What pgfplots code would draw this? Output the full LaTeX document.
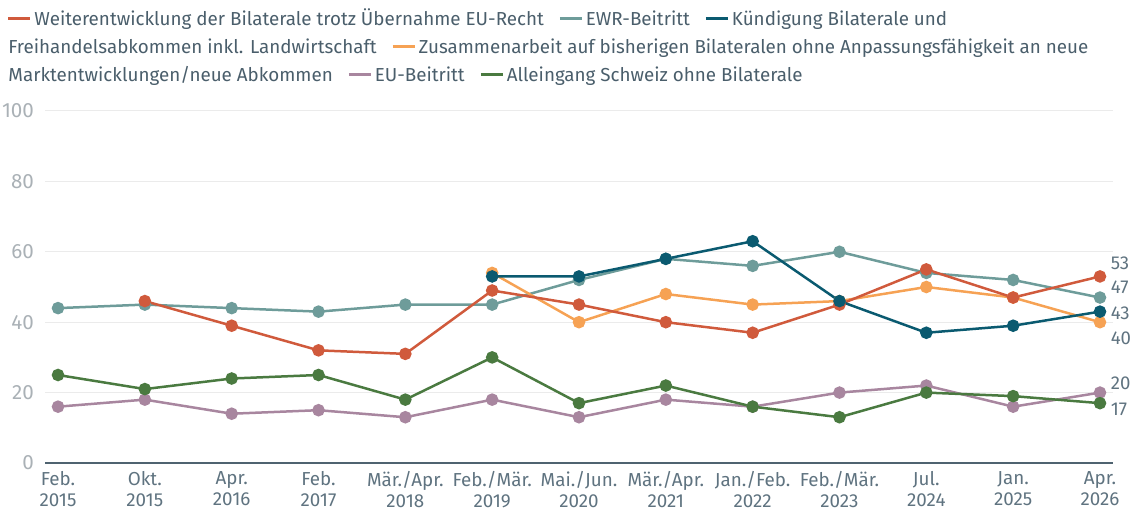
\documentclass[border=0pt]{standalone}
\usepackage{pgfplots}
\pgfplotsset{compat=1.18}
\usepackage{fontspec}
\setmainfont{Fira Sans}
\definecolor{cred}{HTML}{D05A3C}
\definecolor{cewr}{HTML}{6E9C9A}
\definecolor{ckuend}{HTML}{0A5A70}
\definecolor{czus}{HTML}{F6A254}
\definecolor{ceu}{HTML}{A8869F}
\definecolor{callein}{HTML}{4A7A40}
\definecolor{legtext}{HTML}{4A5E6B}
\definecolor{xlab}{HTML}{5F7380}
\definecolor{ylab}{HTML}{AAB1B6}
\definecolor{gridc}{HTML}{EBEBEB}
\definecolor{axlinec}{HTML}{4F6370}
\newcommand{\ld}[1]{\textcolor{#1}{\rule[0.28em]{11pt}{1.3pt}}\hspace{2pt}}
\begin{document}
\begin{tikzpicture}
\begin{axis}[
  width=534pt, height=176pt, scale only axis,
  xmin=-0.15, xmax=12.15, ymin=0, ymax=100,
  axis line style={draw=none},
  major tick length=0pt,
  ytick={0,20,40,60,80,100},
  ymajorgrids, grid style={draw=gridc, line width=0.5pt},
  xtick={0,1,2,3,4,5,6,7,8,9,10,11,12},
  xticklabels={{Feb.\\2015},{Okt.\\2015},{Apr.\\2016},{Feb.\\2017},{Mär./Apr.\\2018},{Feb./Mär.\\2019},{Mai./Jun.\\2020},{Mär./Apr.\\2021},{Jan./Feb.\\2022},{Feb./Mär.\\2023},{Jul.\\2024},{Jan.\\2025},{Apr.\\2026}},
  xticklabel style={align=center, font=\fontsize{9.4}{10.5}\selectfont, text=xlab, yshift=-0.5pt},
  yticklabel style={font=\fontsize{10.3}{11}\selectfont, text=ylab, xshift=-2pt},
  /pgf/number format/assume math mode=true,
  clip=false,
  every axis plot/.append style={line width=1.25pt, mark=*, mark size=2.5pt},
]
\draw[axlinec, line width=1pt] (axis cs:-0.15,0) -- (axis cs:12.15,0);
% EWR-Beitritt
\addplot[cewr, mark options={fill=cewr}] coordinates {(0,44)(1,45)(2,44)(3,43)(4,45)(5,45)(6,52)(7,58)(8,56)(9,60)(10,54)(11,52)(12,47)};
% EU-Beitritt
\addplot[ceu, mark options={fill=ceu}] coordinates {(0,16)(1,18)(2,14)(3,15)(4,13)(5,18)(6,13)(7,18)(8,16)(9,20)(10,22)(11,16)(12,20)};
% Alleingang
\addplot[callein, mark options={fill=callein}] coordinates {(0,25)(1,21)(2,24)(3,25)(4,18)(5,30)(6,17)(7,22)(8,16)(9,13)(10,20)(11,19)(12,17)};
% Zusammenarbeit
\addplot[czus, mark options={fill=czus}] coordinates {(5,54)(6,40)(7,48)(8,45)(9,46)(10,50)(11,47)(12,40)};
% Weiterentwicklung
\addplot[cred, mark options={fill=cred}] coordinates {(1,46)(2,39)(3,32)(4,31)(5,49)(6,45)(7,40)(8,37)(9,45)(10,55)(11,47)(12,53)};
% Kuendigung
\addplot[ckuend, mark options={fill=ckuend}] coordinates {(5,53)(6,53)(7,58)(8,63)(9,46)(10,37)(11,39)(12,43)};
\begin{scope}[every node/.style={anchor=west, inner sep=0pt, text=xlab, font=\fontsize{9.3}{11}\selectfont}]
\node at (axis cs:12.12,56.8) {53};
\node at (axis cs:12.12,49.9) {47};
\node at (axis cs:12.12,42.6) {43};
\node at (axis cs:12.12,35.5) {40};
\node at (axis cs:12.12,22.7) {20};
\node at (axis cs:12.12,15.3) {17};
\end{scope}
\end{axis}
\node[anchor=north west, inner sep=0pt, align=left, text=legtext, font=\fontsize{9.4}{14}\selectfont] at (-18.5pt,227.5pt) {%
\ld{cred}Weiterentwicklung der Bilaterale trotz Übernahme EU-Recht\hspace{8pt}\ld{cewr}EWR-Beitritt\hspace{8pt}\ld{ckuend}Kündigung Bilaterale und\\
Freihandelsabkommen inkl. Landwirtschaft\hspace{8pt}\ld{czus}Zusammenarbeit auf bisherigen Bilateralen ohne Anpassungsfähigkeit an neue\\
Marktentwicklungen/neue Abkommen\hspace{8pt}\ld{ceu}EU-Beitritt\hspace{8pt}\ld{callein}Alleingang Schweiz ohne Bilaterale};
\pgfresetboundingbox
\useasboundingbox (-22.5pt,-25pt) rectangle (542.5pt,231.5pt);
\end{tikzpicture}
\end{document}
